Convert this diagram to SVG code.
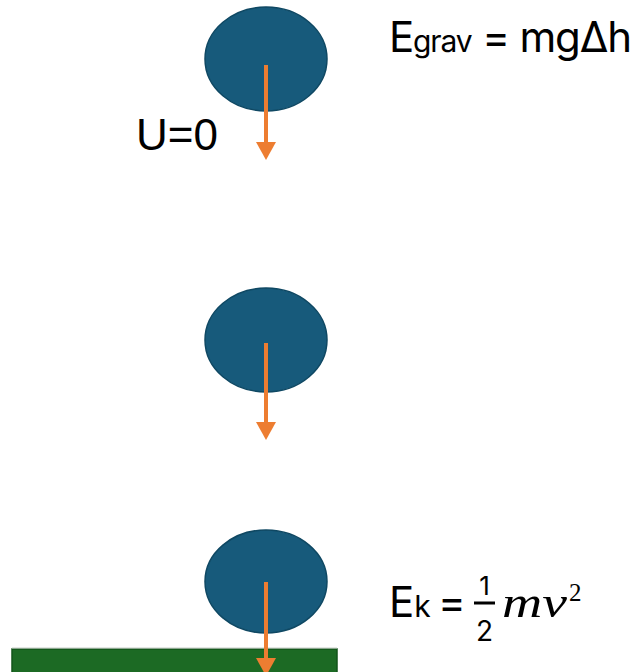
<svg xmlns="http://www.w3.org/2000/svg" width="638" height="672" viewBox="0 0 638 672">
<defs>
<style>
.ball{fill:#175a7b;stroke:#0f4863;stroke-width:1.5}
.arr{stroke:#ed7d31;stroke-width:4;fill:none}
.head{fill:#ed7d31}
.t{font-family:Inter,"Liberation Sans",sans-serif;fill:#000}
.u{font-family:"Liberation Sans",Arial,sans-serif;fill:#000}
.m{font-family:"Liberation Serif","DejaVu Serif",serif;font-style:italic;fill:#000}
.s{font-family:"Liberation Serif","DejaVu Serif",serif;fill:#000}
</style>
</defs>
<rect width="638" height="672" fill="#fff"/>
<g id="ground">
<rect x="12" y="649" width="325" height="30" fill="#1c6a24" stroke="#12541a" stroke-width="1.5"/>
<line x1="12" y1="648" x2="337" y2="648" stroke="#c9cfc9" stroke-width="1"/>
</g>
<g id="ball1"><ellipse class="ball" cx="266" cy="59" rx="61" ry="52"/></g>
<g id="ball2"><ellipse class="ball" cx="266" cy="340" rx="61" ry="52"/></g>
<g id="ball3"><ellipse class="ball" cx="266" cy="581.5" rx="61" ry="51.5"/></g>
<g id="connectors">
<line class="arr" x1="266" y1="65" x2="266" y2="143"/>
<polygon class="head" points="256,142 276,142 266,160"/>
<line class="arr" x1="266" y1="343" x2="266" y2="423"/>
<polygon class="head" points="256,422 276,422 266,440"/>
<line class="arr" x1="266" y1="582" x2="266" y2="659"/>
<polygon class="head" points="256,658 276,658 266,676"/>
</g>
<g id="label-u">
<text class="u" x="136" y="150" font-size="44">U=0</text>
</g>
<g id="label-egrav">
<text class="t" x="389" y="52" font-size="42" textLength="243" lengthAdjust="spacing">E<tspan font-size="30">grav</tspan> = mgΔh</text>
</g>
<g id="label-ek">
<text class="t" x="389" y="617" font-size="42">E<tspan font-size="30">k</tspan></text>
<text class="t" x="438" y="617" font-size="42">=</text>
<text class="t" x="484.5" y="595" font-size="26" text-anchor="middle">1</text>
<rect x="474" y="601.5" width="21" height="3" fill="#000"/>
<text class="t" x="484.5" y="641" font-size="28" text-anchor="middle">2</text>
<text class="m" x="502" y="617" font-size="44" textLength="65" lengthAdjust="spacingAndGlyphs">mv</text>
<text class="s" x="569" y="601" font-size="25">2</text>
</g>
</svg>
